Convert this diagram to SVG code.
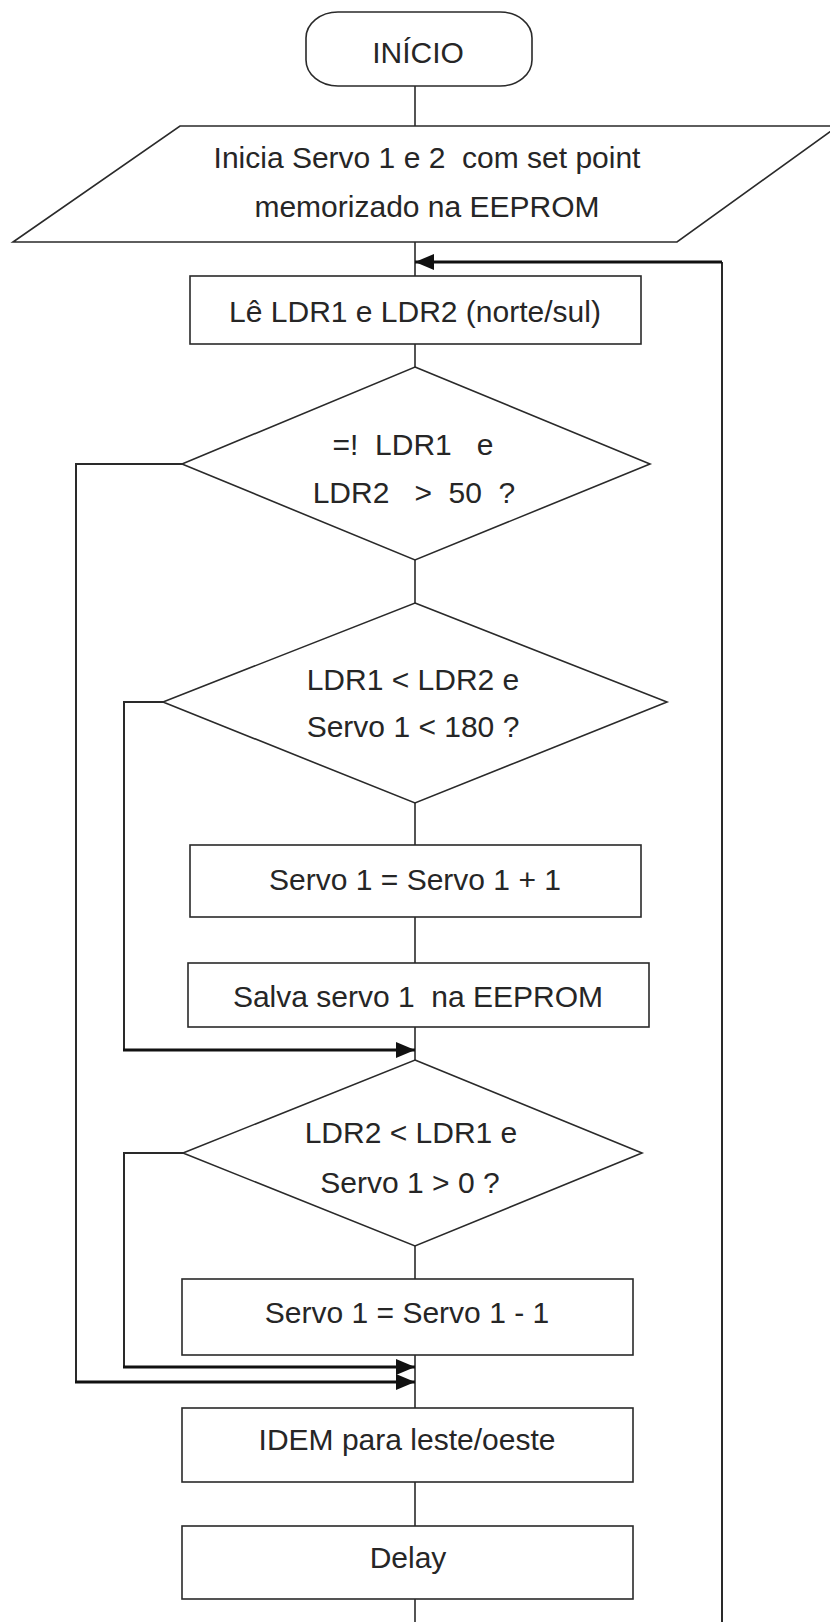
<svg xmlns="http://www.w3.org/2000/svg" width="830" height="1622" viewBox="0 0 830 1622" xml:space="preserve">
<style>
.shape{fill:#fff;stroke:#2a2a2a;stroke-width:1.6}
.t{font-family:"Liberation Sans",Arial,sans-serif;font-size:30px;fill:#262626;text-anchor:middle;white-space:pre}
.ln{fill:none;stroke:#2a2a2a;stroke-width:1.6}
.ret{fill:none;stroke:#2a2a2a;stroke-width:2}
.thick{fill:none;stroke:#111;stroke-width:3.2}
.ah{fill:#111}
</style>
<defs>
<marker id="arr" markerUnits="userSpaceOnUse" markerWidth="20" markerHeight="20" viewBox="0 0 20 20" refX="19" refY="10" orient="auto">
<path class="ah" d="M0,2 L19,10 L0,18 Z"/>
</marker>
</defs>
<rect width="830" height="1622" fill="#fff"/>
<g id="connectors">
<line class="ln" x1="415" y1="86" x2="415" y2="126"/>
<line class="ln" x1="415" y1="242" x2="415" y2="276"/>
<line class="ln" x1="415" y1="344" x2="415" y2="367"/>
<line class="ln" x1="415" y1="560" x2="415" y2="603"/>
<line class="ln" x1="415" y1="803" x2="415" y2="845"/>
<line class="ln" x1="415" y1="917" x2="415" y2="963"/>
<line class="ln" x1="415" y1="1027" x2="415" y2="1060"/>
<line class="ln" x1="415" y1="1246" x2="415" y2="1279"/>
<line class="ln" x1="415" y1="1355" x2="415" y2="1408"/>
<line class="ln" x1="415" y1="1482" x2="415" y2="1526"/>
<line class="ln" x1="415" y1="1599" x2="415" y2="1622"/>
<polyline class="ret" points="722,1622 722,262"/>
<line class="thick" x1="722" y1="262" x2="415" y2="262" marker-end="url(#arr)"/>
<polyline class="ret" points="182,464 76,464 76,1382"/>
<line class="thick" x1="75" y1="1382" x2="415" y2="1382" marker-end="url(#arr)"/>
<polyline class="ret" points="163,702 124,702 124,1050"/>
<line class="thick" x1="123" y1="1050" x2="415" y2="1050" marker-end="url(#arr)"/>
<polyline class="ret" points="183,1153 124,1153 124,1367"/>
<line class="thick" x1="123" y1="1367" x2="415" y2="1367" marker-end="url(#arr)"/>
</g>
<g id="inicio">
<rect class="shape" x="306" y="12" width="226" height="74" rx="32" ry="26"/>
<text class="t" x="418" y="63">INÍCIO</text>
</g>
<g id="inicia-servos">
<polygon class="shape" points="180,126 838,126 677,242 13,242"/>
<text class="t" x="427" y="168">Inicia Servo 1 e 2  com set point</text>
<text class="t" x="427" y="217">memorizado na EEPROM</text>
</g>
<g id="le-ldr">
<rect class="shape" x="190" y="276" width="451" height="68"/>
<text class="t" x="415" y="322">Lê LDR1 e LDR2 (norte/sul)</text>
</g>
<g id="decisao-ldr">
<polygon class="shape" points="415,367 650,464 415,560 182,464"/>
<text class="t" x="413" y="455">=!  LDR1   e</text>
<text class="t" x="414" y="503">LDR2   &gt;  50  ?</text>
</g>
<g id="decisao-ldr1-menor">
<polygon class="shape" points="415,603 667,702 415,803 163,702"/>
<text class="t" x="413" y="690">LDR1 &lt; LDR2 e</text>
<text class="t" x="413" y="737">Servo 1 &lt; 180 ?</text>
</g>
<g id="servo-mais">
<rect class="shape" x="190" y="845" width="451" height="72"/>
<text class="t" x="415" y="890">Servo 1 = Servo 1 + 1</text>
</g>
<g id="salva-servo">
<rect class="shape" x="188" y="963" width="461" height="64"/>
<text class="t" x="418" y="1007">Salva servo 1  na EEPROM</text>
</g>
<g id="decisao-ldr2-menor">
<polygon class="shape" points="415,1060 642,1153 415,1246 183,1153"/>
<text class="t" x="411" y="1143">LDR2 &lt; LDR1 e</text>
<text class="t" x="410" y="1193">Servo 1 &gt; 0 ?</text>
</g>
<g id="servo-menos">
<rect class="shape" x="182" y="1279" width="451" height="76"/>
<text class="t" x="407" y="1323">Servo 1 = Servo 1 - 1</text>
</g>
<g id="idem">
<rect class="shape" x="182" y="1408" width="451" height="74"/>
<text class="t" x="407" y="1450">IDEM para leste/oeste</text>
</g>
<g id="delay">
<rect class="shape" x="182" y="1526" width="451" height="73"/>
<text class="t" x="408" y="1568">Delay</text>
</g>
</svg>
